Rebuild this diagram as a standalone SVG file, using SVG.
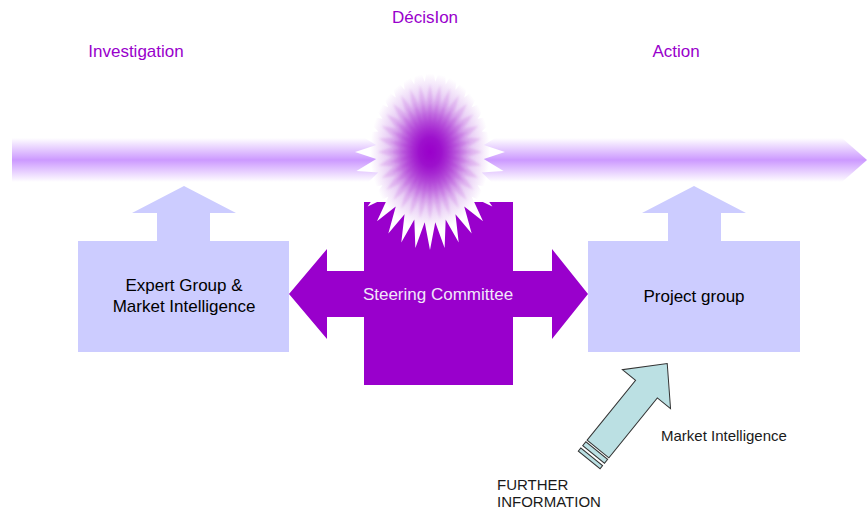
<svg xmlns="http://www.w3.org/2000/svg" width="867" height="513" viewBox="0 0 867 513">
<defs>
<linearGradient id="bandGrad" x1="0" y1="0" x2="0" y2="1">
<stop offset="0" stop-color="#FFFFFF"/>
<stop offset="0.5" stop-color="#CC99FF"/>
<stop offset="1" stop-color="#FFFFFF"/>
</linearGradient>
<radialGradient id="starGrad" cx="0.5" cy="0.5" r="0.5">
<stop offset="0" stop-color="#9900CC"/>
<stop offset="0.15" stop-color="#A020D0"/>
<stop offset="0.5" stop-color="#E2BFF2"/>
<stop offset="0.8" stop-color="#FFFFFF"/>
<stop offset="1" stop-color="#FFFFFF"/>
</radialGradient>
<polygon id="starShape" points="75,0 53.74,6.92 73.56,19.12 51.67,20.49 69.29,37.5 47.62,33.28 62.36,54.45 41.74,44.79 53.03,69.3 34.26,54.57 41.67,81.48 25.46,62.26 28.7,90.54 15.68,67.56 14.63,96.12 5.29,70.26 0,98 -5.29,70.26 -14.63,96.12 -15.68,67.56 -28.7,90.54 -25.46,62.26 -41.67,81.48 -34.26,54.57 -53.03,69.3 -41.74,44.79 -62.36,54.45 -47.62,33.28 -69.29,37.5 -51.67,20.49 -73.56,19.12 -53.74,6.92 -75,0 -53.74,-6.92 -73.56,-19.12 -51.67,-20.49 -69.29,-37.5 -47.62,-33.28 -62.36,-54.45 -41.74,-44.79 -53.03,-69.3 -34.26,-54.57 -41.67,-81.48 -25.46,-62.26 -28.7,-90.54 -15.68,-67.56 -14.63,-96.12 -5.29,-70.26 0,-98 5.29,-70.26 14.63,-96.12 15.68,-67.56 28.7,-90.54 25.46,-62.26 41.67,-81.48 34.26,-54.57 53.03,-69.3 41.74,-44.79 62.36,-54.45 47.62,-33.28 69.29,-37.5 51.67,-20.49 73.56,-19.12 53.74,-6.92"/>
<filter id="soft" x="-10%" y="-10%" width="120%" height="120%"><feGaussianBlur stdDeviation="1.2"/></filter>
<style>
.lbl{font-family:"Liberation Sans",Arial,sans-serif;font-size:17px;fill:#9900CC;text-anchor:middle}
.box{fill:#CCCCFF}
.txt{font-family:"Liberation Sans",Arial,sans-serif;font-size:17px;fill:#000000;text-anchor:middle}
.small{font-family:"Liberation Sans",Arial,sans-serif;font-size:15px;fill:#1a1a1a}
.teal{fill:#BBE0E3;stroke:#333333;stroke-width:1}
.ray{fill:#9900CC;fill-opacity:0.13}
</style>
</defs>
<g id="timeline">
<polygon points="12,138 842,138 867,160 842,182 12,182" fill="url(#bandGrad)"/>
</g>
<g id="expert-group">
<rect class="box" x="78" y="241" width="211" height="111"/>
<text class="txt" x="184" y="291">Expert Group &amp;</text>
<text class="txt" x="184" y="312">Market Intelligence</text>
</g>
<g id="project-group">
<rect class="box" x="588" y="241" width="212" height="111"/>
<text class="txt" x="694" y="302">Project group</text>
</g>
<g id="connectors">
<polygon class="box" points="132,213 184,186 236,213 210,213 210,241 157,241 157,213"/>
<polygon class="box" points="642,213 694,186 746,213 721,213 721,241 668,241 668,213"/>
<g transform="translate(598,449) rotate(-51)">
<polygon class="teal" points="0,-14 77,-14 77,-31 110,0 77,31 77,14 0,14"/>
<rect class="teal" x="-7" y="-14" width="5" height="28"/>
<rect class="teal" x="-14" y="-14" width="4" height="28"/>
</g>
</g>
<g id="steering-committee">
<rect x="364" y="202" width="149" height="183" fill="#9900CC"/>
<polygon fill="#9900CC" points="289,294 327,249 327,271 552,271 552,249 588,294 552,339 552,317 327,317 327,339"/>
<text x="438" y="300" font-family="Liberation Sans, Arial, sans-serif" font-size="17" fill="#F2E6FA" text-anchor="middle">Steering Committee</text>
</g>
<g id="decision-star" transform="translate(430,152)">
<use href="#starShape" fill="url(#starGrad)"/>
<g filter="url(#soft)">
<use href="#starShape" class="ray" transform="scale(0.7)"/>
<use href="#starShape" class="ray" transform="scale(0.55)"/>
<use href="#starShape" class="ray" transform="scale(0.42)"/>
<use href="#starShape" class="ray" transform="scale(0.3)"/>
<use href="#starShape" class="ray" transform="scale(0.19)"/>
<use href="#starShape" class="ray" transform="scale(0.1)"/>
</g>
</g>
<g id="labels">
<text class="lbl" x="136" y="57">Investigation</text>
<text class="lbl" x="425" y="23">DécisIon</text>
<text class="lbl" x="676" y="57">Action</text>
<text class="small" x="661" y="441">Market Intelligence</text>
<text class="small" x="497" y="490">FURTHER</text>
<text class="small" x="497" y="507">INFORMATION</text>
</g>
</svg>
